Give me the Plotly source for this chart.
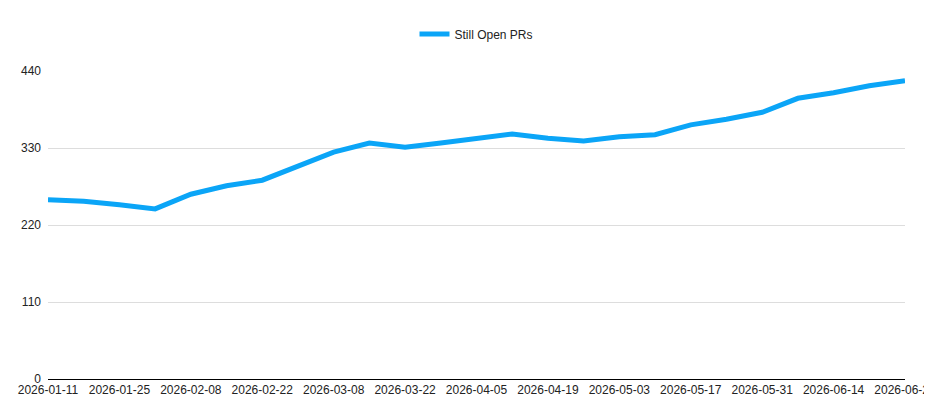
import pandas as pd
import plotly.graph_objects as go

dates = pd.date_range("2026-01-11", "2026-06-28", freq="7D").strftime("%Y-%m-%d").tolist()
still_open = [256, 254, 249, 243, 264, 276, 284, 304, 324, 337, 331, 337, 344, 350,
              344, 340, 346, 349, 363, 371, 381, 401, 409, 419, 426]
tick_dates = dates[::2]
y_ticks = [0, 110, 220, 330, 440]

fig = go.Figure()
fig.add_trace(go.Scatter(
    x=dates, y=still_open, mode="lines", name="Still Open PRs",
    line=dict(color="#0ba5f7", width=5),
))

fig.update_layout(
    width=932, height=410,
    margin=dict(l=40, r=35, t=63, b=39, autoexpand=False),
    plot_bgcolor="white", paper_bgcolor="white",
    font=dict(family="Liberation Sans, Arial, sans-serif", size=12, color="#222"),
    showlegend=True,
    legend=dict(orientation="h", x=0.5, xanchor="center", y=1.12, yanchor="middle",
                font=dict(size=12)),
)
fig.update_xaxes(
    type="category", tickvals=tick_dates, ticktext=tick_dates, automargin=False,
    showgrid=False, showline=True, linecolor="black", linewidth=1,
    ticks="", range=[0, len(dates) - 1],
)
fig.update_yaxes(
    range=[0, 440], tickvals=y_ticks, showgrid=True, gridcolor="#dddddd",
    zeroline=False, showline=False, ticks="", automargin=False, ticklabelstandoff=6,
)

fig.write_html("out.html")
